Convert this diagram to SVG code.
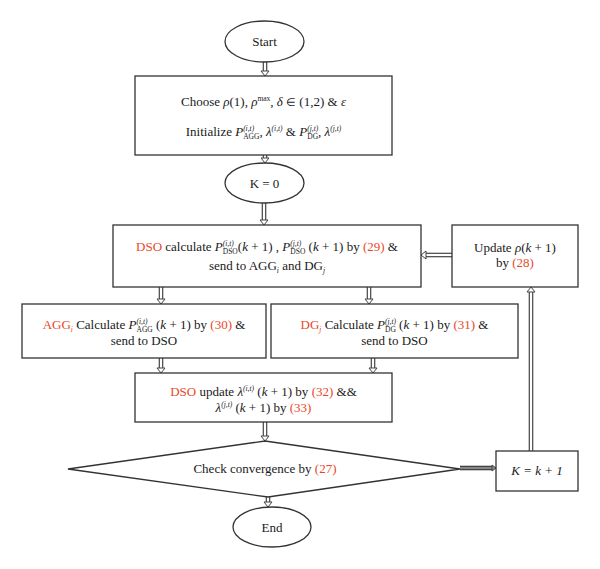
<svg xmlns="http://www.w3.org/2000/svg" width="600" height="569" viewBox="0 0 600 569">
<style>
.bx{fill:#fff;stroke:#333;stroke-width:1.3}
.t{font-family:"Liberation Serif","Times New Roman",serif;font-size:13px;fill:#1a1a1a;text-anchor:middle}
.r{fill:#e8482a}
.i{font-style:italic}
.sp{font-size:7.5px;font-style:italic}
.sb{font-size:7.5px}
.so{stroke:#444;stroke-width:4.6;fill:none}
.si{stroke:#fff;stroke-width:2.2;fill:none}
.sg{stroke:#8a8484;stroke-width:2.2;fill:none}
.hd{fill:#fff;stroke:#444;stroke-width:1}
.hg{fill:#8a8484;stroke:#444;stroke-width:1}
</style>
<rect width="600" height="569" fill="#fff"/>
<g id="connectors">
<g><line x1="265" y1="62" x2="265" y2="71" class="so"/><line x1="265" y1="62" x2="265" y2="71.5" class="si"/><polygon points="261,71 269,71 265,76" class="hd"/></g>
<g><line x1="265" y1="155" x2="265" y2="158" class="so"/><line x1="265" y1="155" x2="265" y2="158.5" class="si"/><polygon points="261,158 269,158 265,163" class="hd"/></g>
<g><line x1="264" y1="203" x2="264" y2="220" class="so"/><line x1="264" y1="203" x2="264" y2="220.5" class="si"/><polygon points="260,220 268,220 264,225" class="hd"/></g>
<g><line x1="161" y1="287" x2="161" y2="299" class="so"/><line x1="161" y1="287" x2="161" y2="299.5" class="si"/><polygon points="157,299 165,299 161,304" class="hd"/></g>
<g><line x1="369" y1="287" x2="369" y2="299" class="so"/><line x1="369" y1="287" x2="369" y2="299.5" class="si"/><polygon points="365,299 373,299 369,304" class="hd"/></g>
<g><line x1="161" y1="358" x2="161" y2="368" class="so"/><line x1="161" y1="358" x2="161" y2="368.5" class="si"/><polygon points="157,368 165,368 161,373" class="hd"/></g>
<g><line x1="373" y1="358" x2="373" y2="368" class="so"/><line x1="373" y1="358" x2="373" y2="368.5" class="si"/><polygon points="369,368 377,368 373,373" class="hd"/></g>
<g><line x1="265" y1="422" x2="265" y2="436" class="so"/><line x1="265" y1="422" x2="265" y2="436.5" class="si"/><polygon points="261,436 269,436 265,441" class="hd"/></g>
<g><line x1="268" y1="494" x2="268" y2="502" class="so"/><line x1="268" y1="494" x2="268" y2="502.5" class="si"/><polygon points="264,502 272,502 268,507" class="hd"/></g>
<g><line x1="460" y1="468" x2="492" y2="468" class="so"/><line x1="460" y1="468" x2="492.5" y2="468" class="sg"/><polygon points="492,465 492,471 496,468" class="hg"/></g>
<g><line x1="531" y1="451" x2="531" y2="292" class="so"/><line x1="531" y1="451" x2="531" y2="291.5" class="si"/><polygon points="527,292 535,292 531,287" class="hd"/></g>
<g><line x1="452" y1="255" x2="426" y2="255" class="so"/><line x1="452" y1="255" x2="425.5" y2="255" class="si"/><polygon points="426,251 426,259 421,255" class="hd"/></g>
</g>
<g id="start">
<ellipse cx="264.5" cy="41.5" rx="39.5" ry="20.5" class="bx"/>
<text x="264.5" y="46" class="t">Start</text>
</g>
<g id="init">
<rect x="135" y="76" width="257" height="79" class="bx"/>
<text x="263.5" y="106" class="t">Choose <tspan class="i">ρ</tspan>(1), <tspan class="i">ρ</tspan><tspan class="sb" dy="-5">max</tspan><tspan dy="5">, </tspan><tspan class="i">δ</tspan> <tspan font-size="11">∈</tspan> (1,2) &amp; <tspan class="i">ε</tspan></text>
<text x="263.5" y="136" class="t">Initialize <tspan class="i">P</tspan><tspan class="sp" dy="-5">(i,t)</tspan><tspan class="sb" dx="-11" dy="8">AGG</tspan><tspan dy="-3">, </tspan><tspan class="i">λ</tspan><tspan class="sp" dy="-5">(i,t)</tspan><tspan dy="5"> &amp; </tspan><tspan class="i">P</tspan><tspan class="sp" dy="-5">(j,t)</tspan><tspan class="sb" dx="-11" dy="8">DG</tspan><tspan dy="-3">, </tspan><tspan class="i">λ</tspan><tspan class="sp" dy="-5">(j,t)</tspan></text>
</g>
<g id="k0">
<ellipse cx="264.5" cy="183" rx="39.5" ry="20" class="bx"/>
<text x="264.5" y="187.5" class="t">K = 0</text>
</g>
<g id="dso-calc">
<rect x="113" y="225" width="308" height="62" class="bx"/>
<text x="267" y="251" class="t"><tspan class="r">DSO</tspan> calculate <tspan class="i">P</tspan><tspan class="sp" dy="-5">(i,t)</tspan><tspan class="sb" dx="-11" dy="8">DSO</tspan><tspan dy="-3">(</tspan><tspan class="i">k</tspan> + 1) , <tspan class="i">P</tspan><tspan class="sp" dy="-5">(j,t)</tspan><tspan class="sb" dx="-11" dy="8">DSO</tspan><tspan dy="-3"> (</tspan><tspan class="i">k</tspan> + 1) by <tspan class="r">(29)</tspan> &amp;</text>
<text x="267" y="270" class="t">send to AGG<tspan class="sp" dy="3">i</tspan><tspan dy="-3"> and DG</tspan><tspan class="sp" dy="3">j</tspan></text>
</g>
<g id="agg">
<rect x="22" y="304" width="244" height="54" class="bx"/>
<text x="144" y="329" class="t"><tspan class="r">AGG</tspan><tspan class="sp r" dy="3">i</tspan><tspan dy="-3"> Calculate </tspan><tspan class="i">P</tspan><tspan class="sp" dy="-5">(i,t)</tspan><tspan class="sb" dx="-11" dy="8">AGG</tspan><tspan dy="-3"> (</tspan><tspan class="i">k</tspan> + 1) by <tspan class="r">(30)</tspan> &amp;</text>
<text x="144" y="345" class="t">send to DSO</text>
</g>
<g id="dg">
<rect x="271" y="304" width="247" height="54" class="bx"/>
<text x="394.5" y="329" class="t"><tspan class="r">DG</tspan><tspan class="sp r" dy="3">j</tspan><tspan dy="-3"> Calculate </tspan><tspan class="i">P</tspan><tspan class="sp" dy="-5">(j,t)</tspan><tspan class="sb" dx="-11" dy="8">DG</tspan><tspan dy="-3"> (</tspan><tspan class="i">k</tspan> + 1) by <tspan class="r">(31)</tspan> &amp;</text>
<text x="394.5" y="345" class="t">send to DSO</text>
</g>
<g id="dso-update">
<rect x="135" y="373" width="257" height="49" class="bx"/>
<text x="263.5" y="396" class="t"><tspan class="r">DSO</tspan> update <tspan class="i">λ</tspan><tspan class="sp" dy="-5">(i,t)</tspan><tspan dy="5"> (</tspan><tspan class="i">k</tspan> + 1) by <tspan class="r">(32)</tspan> &amp;&amp;</text>
<text x="263.5" y="411.5" class="t"><tspan class="i">λ</tspan><tspan class="sp" dy="-5">(j,t)</tspan><tspan dy="5"> (</tspan><tspan class="i">k</tspan> + 1) by <tspan class="r">(33)</tspan></text>
</g>
<g id="check">
<polygon points="265,441 460,469 268,497 68,469" class="bx"/>
<text x="265" y="472.5" class="t">Check convergence by <tspan class="r">(27)</tspan></text>
</g>
<g id="end">
<ellipse cx="272" cy="527" rx="39" ry="20" class="bx"/>
<text x="272" y="531.5" class="t">End</text>
</g>
<g id="kinc">
<rect x="496" y="451" width="82" height="40" class="bx"/>
<text x="537" y="474.5" class="t i">K = k + 1</text>
</g>
<g id="update-rho">
<rect x="452" y="225" width="126" height="62" class="bx"/>
<text x="515" y="252" class="t">Update <tspan class="i">ρ</tspan>(<tspan class="i">k</tspan> + 1)</text>
<text x="515" y="267" class="t">by <tspan class="r">(28)</tspan></text>
</g>
</svg>
